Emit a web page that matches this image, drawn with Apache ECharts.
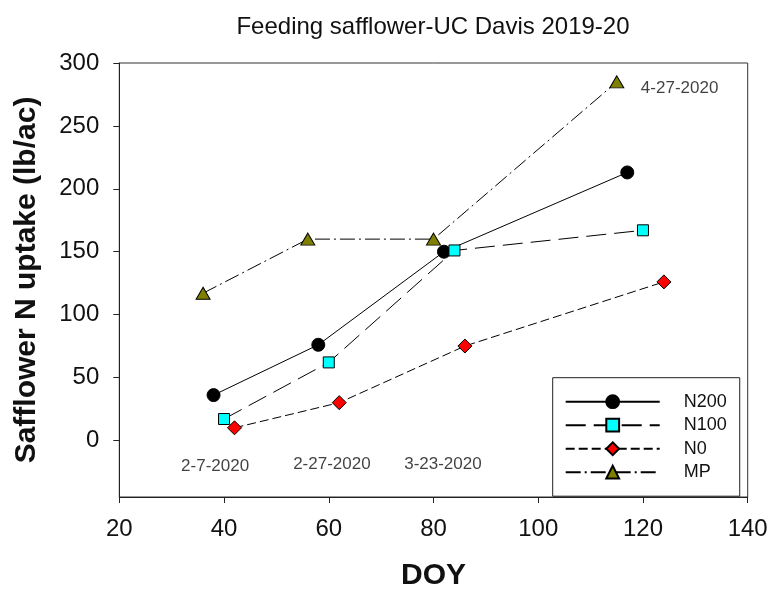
<!DOCTYPE html>
<html>
<head>
<meta charset="utf-8">
<script src="https://cdn.jsdelivr.net/npm/echarts@6/dist/echarts.min.js"></script>
<style>
  html, body { margin: 0; padding: 0; background: #fff; }
  #chart { width: 772px; height: 596px; }
</style>
</head>
<body>
<div id="chart"></div>
<script>
// Safflower N uptake by treatment over the 2019-20 season (DOY vs lb/ac)
const seriesNames = ['N200', 'N100', 'N0', 'MP'];

const n200Doy = [38, 58, 82, 117];
const n200Uptake = [36, 76, 150, 213];

const n100Doy = [40, 60, 84, 120];
const n100Uptake = [17, 62, 151, 167];

const n0Doy = [42, 62, 86, 124];
const n0Uptake = [10, 30, 75, 126];

const mpDoy = [36, 56, 80, 115];
const mpUptake = [117, 160, 160, 285];

// Sampling-date notes, placed in DOY / uptake units
const noteText = ['2-7-2020', '2-27-2020', '3-23-2020', '4-27-2020'];
const noteDoy = [38.3, 60.6, 81.8, 127.0];
const noteUptake = [-20.6, -19, -19, 280];

const yTickValues = [0, 50, 100, 150, 200, 250, 300];
const xTickValues = [20, 40, 60, 80, 100, 120, 140];

const FONT = '"Liberation Sans", Arial, Helvetica, sans-serif';

function pairs(xs, ys) {
  return xs.map((x, i) => [x, ys[i]]);
}

const chart = echarts.init(document.getElementById('chart'), null, { renderer: 'canvas' });

const lineBase = {
  type: 'line',
  showSymbol: true,
  animation: false,
  z: 3
};

chart.setOption({
  backgroundColor: '#ffffff',
  animation: false,
  title: {
    text: 'Feeding safflower-UC Davis 2019-20',
    left: 428,
    textAlign: 'center',
    top: 10.5,
    textStyle: { fontFamily: FONT, fontSize: 24, fontWeight: 'normal', color: '#111' }
  },
  grid: {
    left: 119.3,
    right: 24.3,
    top: 63,
    bottom: 92.7,
    show: true,
    borderColor: '#333',
    borderWidth: 1,
    backgroundColor: 'transparent'
  },
  legend: {
    data: seriesNames,
    orient: 'vertical',
    left: 552.7,
    top: 377.7,
    itemWidth: 94,
    itemHeight: 16,
    itemGap: 5.5,
    padding: [15, 13, 15, 12],
    borderColor: '#222',
    borderWidth: 1,
    textStyle: { fontFamily: FONT, fontSize: 18, color: '#111', padding: [0, 0, 0, 19] },
    selectedMode: false
  },
  xAxis: {
    type: 'value',
    min: 20,
    max: 140,
    interval: 20,
    name: 'DOY',
    nameLocation: 'middle',
    nameGap: 64,
    nameTextStyle: { fontFamily: FONT, fontSize: 30, fontWeight: 'bold', color: '#111' },
    axisLine: { show: true, onZero: false, lineStyle: { color: '#222', width: 1 } },
    axisTick: { show: true, length: 6, lineStyle: { color: '#222' }, customValues: xTickValues },
    axisLabel: { fontFamily: FONT, fontSize: 24, color: '#111', margin: 20, customValues: xTickValues },
    splitLine: { show: false }
  },
  yAxis: {
    type: 'value',
    min: -45,
    max: 300,
    name: 'Safflower N uptake (lb/ac)',
    nameLocation: 'middle',
    nameGap: 78,
    nameTextStyle: { fontFamily: FONT, fontSize: 30, fontWeight: 'bold', color: '#111' },
    axisLine: { show: true, onZero: false, lineStyle: { color: '#222', width: 1 } },
    axisTick: { show: true, length: 6, lineStyle: { color: '#222' }, customValues: yTickValues },
    axisLabel: { fontFamily: FONT, fontSize: 24, color: '#111', margin: 20, customValues: yTickValues },
    splitLine: { show: false }
  },
  series: [
    Object.assign({}, lineBase, {
      name: 'N200',
      data: pairs(n200Doy, n200Uptake),
      symbol: 'circle',
      symbolSize: 13,
      itemStyle: { color: '#000000', borderColor: '#000000', borderWidth: 1 },
      lineStyle: { color: '#000000', width: 1, type: 'solid' }
    }),
    Object.assign({}, lineBase, {
      name: 'N100',
      data: pairs(n100Doy, n100Uptake),
      symbol: 'rect',
      symbolSize: 11,
      itemStyle: { color: '#00ffff', borderColor: '#000000', borderWidth: 1 },
      lineStyle: { color: '#000000', width: 1, type: [20, 8] }
    }),
    Object.assign({}, lineBase, {
      name: 'N0',
      data: pairs(n0Doy, n0Uptake),
      symbol: 'diamond',
      symbolSize: 14,
      itemStyle: { color: '#ff0000', borderColor: '#000000', borderWidth: 1 },
      lineStyle: { color: '#000000', width: 1, type: [9, 4] }
    }),
    Object.assign({}, lineBase, {
      name: 'MP',
      data: pairs(mpDoy, mpUptake),
      symbol: 'triangle',
      symbolSize: [14, 12],
      itemStyle: { color: '#808000', borderColor: '#000000', borderWidth: 1 },
      lineStyle: { color: '#000000', width: 1, type: [15, 4, 2, 4] }
    }),
    {
      type: 'scatter',
      name: 'dates',
      silent: true,
      symbolSize: 0,
      data: noteText.map((t, i) => ({ name: t, value: [noteDoy[i], noteUptake[i]] })),
      label: {
        show: true,
        position: 'inside',
        formatter: p => p.name,
        fontFamily: FONT,
        fontSize: 17,
        color: '#111'
      },
      z: 4
    }
  ]
});
</script>
</body>
</html>
